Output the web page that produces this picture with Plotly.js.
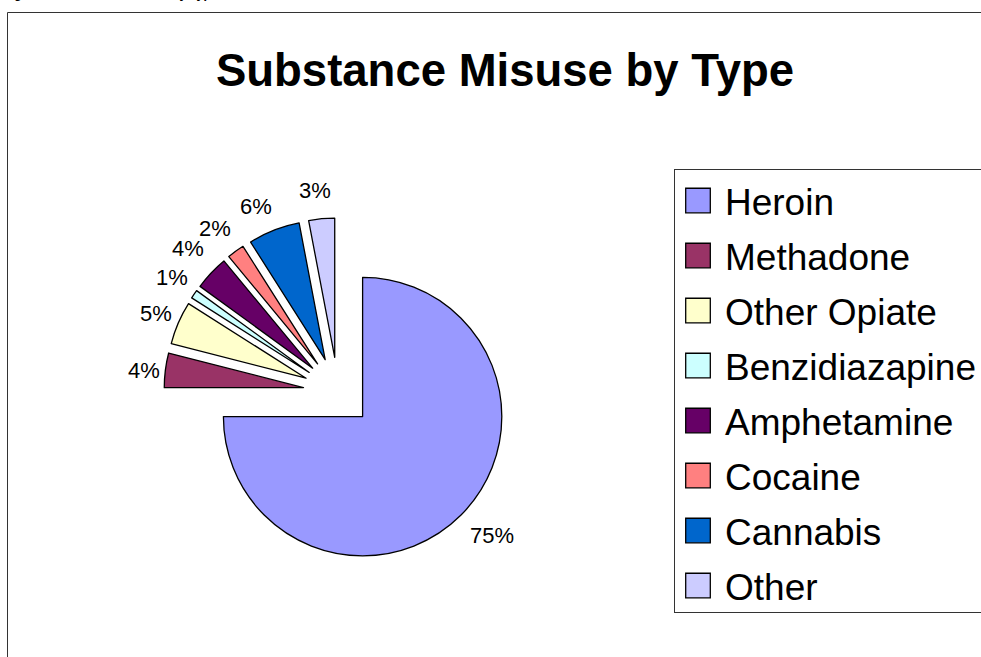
<!DOCTYPE html>
<html>
<head>
<meta charset="utf-8">
<script src="https://cdn.plot.ly/plotly-3.0.1.min.js"></script>
<style>
  html, body { margin: 0; padding: 0; background: #ffffff; }
  #chart { width: 981px; height: 657px; }
  /* larger legend swatches, keeping a thin outline */
  .legendpie { transform: translate(23px, 0px) scale(2.05); vector-effect: non-scaling-stroke; }
</style>
</head>
<body>
<div id="chart"></div>
<script>
// Substance misuse by type, share of clients (%)
const categories = ['Heroin', 'Methadone', 'Other Opiate', 'Benzidiazapine',
                    'Amphetamine', 'Cocaine', 'Cannabis', 'Other'];
const shares = [75, 4, 5, 1, 4, 2, 6, 3];
const sliceColors = ['#9999FF', '#993366', '#FFFFCC', '#CCFFFF',
                     '#660066', '#FF8080', '#0066CC', '#CCCCFF'];
const chartTitle = 'Substance Misuse by Type';
const figureCaption = 'Figure 4: Substance Misuse by Type';

// layout constants (pixels)
const W = 981, H = 657;
const pieBox = { left: 164, right: 512, top: 218, bottom: 566 };
const pullFrac = 0.25;
const labelGap = 28;            // distance of a percent label beyond the exploded rim
const labelNudge = [[11, 1], [6, 4], [3, 2], [1, -1], [-3, -5], [-4, 0], [-8, 2], [-4, 0]];
const legendRowPitch = 55;
const legendBottomTrim = 4;

const px = (x) => x / W;
const py = (y) => 1 - y / H;

const trace = {
  type: 'pie',
  labels: categories,
  values: shares,
  sort: false,
  direction: 'clockwise',
  rotation: 0,
  pull: categories.map(() => pullFrac),
  marker: { colors: sliceColors, line: { color: '#000000', width: 1.3 } },
  textinfo: 'none',
  hoverinfo: 'none',
  domain: { x: [px(pieBox.left), px(pieBox.right)], y: [py(pieBox.bottom), py(pieBox.top)] }
};

// percent labels placed outside each exploded slice, along its bisector
const total = shares.reduce((a, b) => a + b, 0);
const cx = (pieBox.left + pieBox.right) / 2;
const cy = (pieBox.top + pieBox.bottom) / 2;
const R = Math.min(pieBox.right - pieBox.left, pieBox.bottom - pieBox.top) / (2 * (1 + pullFrac));
const labelFont = { family: 'Liberation Sans, Arial, sans-serif', size: 22, color: '#000000' };
let cum = 0;
const percentLabels = shares.map((v, i) => {
  const a0 = cum / total * 2 * Math.PI;
  cum += v;
  const a1 = cum / total * 2 * Math.PI;
  const mid = (a0 + a1) / 2;
  const dist = R * (1 + pullFrac) + labelGap;
  const x = cx + dist * Math.sin(mid) + labelNudge[i][0];
  const y = cy - dist * Math.cos(mid) + labelNudge[i][1];
  return {
    text: Math.round(v / total * 100) + '%',
    xref: 'paper', yref: 'paper',
    x: px(x), y: py(y),
    xanchor: 'center', yanchor: 'middle',
    showarrow: false,
    font: labelFont
  };
});

const layout = {
  width: W,
  height: H,
  margin: { l: 0, r: 0, t: 0, b: 0, autoexpand: false },
  paper_bgcolor: '#ffffff',
  plot_bgcolor: '#ffffff',
  font: { family: 'Liberation Sans, Arial, sans-serif', color: '#000000' },
  showlegend: true,
  legend: {
    x: px(674), xanchor: 'left',
    y: py(169), yanchor: 'top',
    bgcolor: '#ffffff',
    bordercolor: '#333333',
    borderwidth: 1,
    itemwidth: 40,
    font: { family: 'Liberation Sans, Arial, sans-serif', size: 37, color: '#000000' },
    itemclick: false,
    itemdoubleclick: false
  },
  title: {
    text: chartTitle,
    font: { family: 'Liberation Sans, Arial, sans-serif', size: 45.5, weight: 'bold', color: '#000000' },
    x: px(505), xanchor: 'center', xref: 'paper',
    y: py(70), yanchor: 'middle', yref: 'paper'
  },
  annotations: [{
    text: figureCaption,
    xref: 'paper', yref: 'paper',
    x: px(1), xanchor: 'left',
    y: py(3), yanchor: 'bottom',
    showarrow: false,
    font: { family: 'Liberation Sans, Arial, sans-serif', size: 12.5, weight: 'bold', color: '#000000' }
  }].concat(percentLabels),
  shapes: [{
    type: 'rect', xref: 'paper', yref: 'paper',
    x0: px(7.5), x1: 1.02, y0: -0.02, y1: py(12.5),
    line: { color: '#333333', width: 1 },
    fillcolor: 'rgba(0,0,0,0)',
    layer: 'below'
  }]
};

// spread the legend rows to a fixed pitch and fit its box around them
function spaceLegendRows(gd) {
  const rows = Array.from(gd.querySelectorAll('.legend .traces'));
  if (rows.length < 2) return;
  const parse = (el) => {
    const m = /translate\(\s*([-\d.e]+)[ ,]+([-\d.e]+)\s*\)/.exec(el.getAttribute('transform') || '');
    return m ? [parseFloat(m[1]), parseFloat(m[2])] : [0, 0];
  };
  const p0 = parse(rows[0]), p1 = parse(rows[1]);
  const extra = legendRowPitch - (p1[1] - p0[1]);
  rows.forEach((row, i) => {
    const p = parse(row);
    row.setAttribute('transform', 'translate(' + p[0] + ',' + (p[1] + i * extra) + ')');
  });
  const grow = extra * (rows.length - 1);
  const bg = gd.querySelector('.legend rect.bg');
  if (bg) bg.setAttribute('height', parseFloat(bg.getAttribute('height')) + grow - legendBottomTrim);
  document.querySelectorAll('clipPath[id*="legend"] rect').forEach((r) => {
    const h = parseFloat(r.getAttribute('height'));
    if (!isNaN(h)) r.setAttribute('height', h + grow);
  });
}

Plotly.newPlot('chart', [trace], layout, { displayModeBar: false, staticPlot: true })
  .then(spaceLegendRows);
</script>
</body>
</html>
